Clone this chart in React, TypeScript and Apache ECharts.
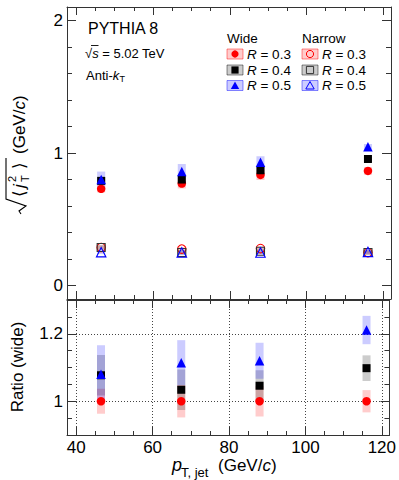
import React, { useEffect, useRef } from 'react';
import * as echarts from 'echarts';

// ---------- data ----------
const ptJet = [46.5, 67.5, 88, 116];

const wideR03 = [0.73, 0.77, 0.835, 0.865];
const wideR04 = [0.79, 0.8, 0.87, 0.955];
const wideR05 = [0.8, 0.86, 0.93, 1.047];
const wideR03Err = [0.027, 0.037, 0.038, 0.029];
const wideR04Err = [0.03, 0.03, 0.025, 0.02];
const wideR05Err = [0.06, 0.057, 0.045, 0.02];

const narrowR03 = [0.288, 0.276, 0.28, 0.25];
const narrowR04 = [0.288, 0.25, 0.26, 0.25];
const narrowR05 = [0.253, 0.25, 0.25, 0.255];
const narrowR03Err = [0.015, 0.015, 0.015, 0.015];
const narrowR04Err = [0.02, 0.02, 0.02, 0.02];
const narrowR05Err = [0.015, 0.015, 0.015, 0.015];

const ratioR03 = [1, 1, 1, 1];
const ratioR04 = [1.077, 1.034, 1.046, 1.098];
const ratioR05 = [1.08, 1.114, 1.12, 1.211];
const ratioR03Err = [0.037, 0.048, 0.045, 0.033];
const ratioR04Err = [0.06, 0.06, 0.046, 0.038];
const ratioR05Err = [0.086, 0.067, 0.053, 0.042];

const xTickLabels = [40, 60, 80, 100, 120];
const topYTickLabels = [0, 1, 2];
const ratioYTickLabels = [1, 1.2];

// ---------- styling ----------
const FONT = '"Liberation Sans", Arial, Helvetica, sans-serif';
const RED = '#ff0000';
const BLUE = '#0000ff';
const BLACK = '#000000';
const GRAY = '#333333';
const RED_BOX = 'rgba(255,0,0,0.2)';
const BLACK_BOX = 'rgba(0,0,0,0.2)';
const BLUE_BOX = 'rgba(0,0,255,0.2)';
const FRAME = '#333';

const X_MIN = 37.6;
const X_MAX = 122;

const near = (v: number, list: number[]) => list.find((t) => Math.abs(v - t) < 1e-6);

function xAxis(gridIndex: number, position: 'top' | 'bottom', labels: boolean, split: boolean) {
  return {
    type: 'value',
    gridIndex,
    position,
    min: X_MIN,
    max: X_MAX,
    splitNumber: 4,
    minInterval: 20,
    maxInterval: 20,
    axisLine: { show: true, onZero: false, lineStyle: { color: FRAME, width: 1 } },
    axisTick: { show: true, inside: true, length: 8, lineStyle: { color: FRAME, width: 1 } },
    minorTick: { show: true, splitNumber: 4, length: 4, lineStyle: { color: FRAME, width: 1 } },
    axisLabel: labels
      ? {
          show: true,
          margin: 4,
          color: '#000',
          fontSize: 17,
          fontFamily: FONT,
          formatter: (v: number) => {
            const t = near(v, xTickLabels);
            return t === undefined ? '' : String(t);
          },
        }
      : { show: false },
    splitLine: split
      ? { show: true, lineStyle: { type: [1, 2], color: '#444', width: 1 } }
      : { show: false },
    minorSplitLine: { show: false },
  };
}

function yAxis(
  gridIndex: number,
  position: 'left' | 'right',
  min: number,
  max: number,
  step: number,
  minorSplit: number,
  labelList: number[] | null,
  split: boolean
) {
  return {
    type: 'value',
    gridIndex,
    position,
    min,
    max,
    splitNumber: 2,
    minInterval: step,
    maxInterval: step,
    axisLine: { show: true, onZero: false, lineStyle: { color: FRAME, width: 1 } },
    axisTick: { show: true, inside: true, length: 9, lineStyle: { color: FRAME, width: 1 } },
    minorTick: { show: true, splitNumber: minorSplit, length: 5, lineStyle: { color: FRAME, width: 1 } },
    axisLabel: labelList
      ? {
          show: true,
          margin: 4,
          color: '#000',
          fontSize: 17,
          fontFamily: FONT,
          formatter: (v: number) => {
            const t = near(v, labelList);
            return t === undefined ? '' : String(t);
          },
        }
      : { show: false },
    splitLine: split
      ? { show: true, lineStyle: { type: [1, 2], color: '#444', width: 1 } }
      : { show: false },
    minorSplitLine: { show: false },
  };
}

function boxSeries(values: number[], errs: number[], fill: string, xi: number, yi: number) {
  return {
    type: 'custom',
    xAxisIndex: xi,
    yAxisIndex: yi,
    data: ptJet.map((x, i) => [x, values[i], errs[i]]),
    encode: { x: 0, y: 1 },
    renderItem: (_p: any, api: any) => {
      const x = api.value(0);
      const y = api.value(1);
      const e = api.value(2);
      const a = api.coord([x - 1.05, y + e]);
      const b = api.coord([x + 1.05, y - e]);
      return {
        type: 'rect',
        shape: { x: a[0], y: a[1], width: b[0] - a[0], height: b[1] - a[1] },
        style: { fill },
      };
    },
    z: 2,
  };
}

function markerSeries(
  values: number[],
  symbol: string,
  size: number,
  color: string,
  hollow: boolean,
  xi: number,
  yi: number
) {
  return {
    type: 'scatter',
    xAxisIndex: xi,
    yAxisIndex: yi,
    data: ptJet.map((x, i) => [x, values[i]]),
    symbol,
    symbolSize: size,
    itemStyle: hollow
      ? { color: 'rgba(0,0,0,0)', borderColor: color, borderWidth: 1.1, opacity: 1 }
      : { color, opacity: 1 },
    z: 5,
  };
}

// ---------- legend / annotation graphics ----------
function legendEntry(
  x: number,
  yc: number,
  boxFill: string,
  boxStroke: string,
  marker: string,
  color: string,
  hollow: boolean,
  label: string
) {
  const cx = x + 8;
  const children: any[] = [
    {
      type: 'rect',
      shape: { x, y: yc - 5, width: 16, height: 10 },
      style: { fill: boxFill, stroke: boxStroke, lineWidth: 1 },
    },
  ];
  const st = hollow ? { fill: 'none', stroke: color, lineWidth: 1 } : { fill: color };
  if (marker === 'circle') children.push({ type: 'circle', shape: { cx, cy: yc, r: 3.6 }, style: st });
  if (marker === 'rect') children.push({ type: 'rect', shape: { x: cx - 3.6, y: yc - 3.6, width: 7.2, height: 7.2 }, style: st });
  if (marker === 'triangle')
    children.push({
      type: 'polygon',
      shape: { points: [[cx, yc - 4], [cx + 4.2, yc + 3.5], [cx - 4.2, yc + 3.5]] },
      style: st,
    });
  children.push({
    type: 'text',
    x: x + 20,
    y: yc,
    style: {
      text: '{i|R} = ' + label,
      fontSize: 13.5,
      fontFamily: FONT,
      fill: '#000',
      verticalAlign: 'middle',
      align: 'left',
      rich: { i: { fontStyle: 'italic', fontSize: 13.5, fontFamily: FONT } },
    },
  });
  return children;
}

const legendRows = [54, 70, 85.5];

export default function App() {
  const ref = useRef<HTMLDivElement>(null);
  useEffect(() => {
    if (!ref.current) return;
    const chart = echarts.init(ref.current, null, { renderer: 'svg' });

    const txt = (x: number, y: number, text: string, size: number, extra: any = {}) => ({
      type: 'text',
      x,
      y,
      z: 100,
      style: {
        text,
        fontSize: size,
        fontFamily: FONT,
        fill: '#000',
        align: 'left',
        verticalAlign: 'middle',
        rich: { i: { fontStyle: 'italic', fontSize: size, fontFamily: FONT } },
        ...extra,
      },
    });

    const graphics: any[] = [
      // annotations
      txt(88, 28, 'PYTHIA 8', 16),
      txt(85, 53, '√{i|s} = 5.02 TeV', 13),
      {
        type: 'line',
        z: 100,
        shape: { x1: 91, y1: 45.5, x2: 98.5, y2: 45.5 },
        style: { stroke: '#000', lineWidth: 0.9 },
      },
      txt(86, 75, 'Anti-{i|k}', 13),
      txt(119.5, 79, 'T', 9),
      // legend headers
      txt(227, 38, 'Wide', 13.5),
      txt(302, 38, 'Narrow', 13.5),
      // legend entries
      ...legendEntry(227, legendRows[0], RED_BOX, 'rgba(255,0,0,0.45)', 'circle', RED, false, '0.3'),
      ...legendEntry(227, legendRows[1], BLACK_BOX, 'rgba(0,0,0,0.45)', 'rect', BLACK, false, '0.4'),
      ...legendEntry(227, legendRows[2], BLUE_BOX, 'rgba(0,0,255,0.45)', 'triangle', BLUE, false, '0.5'),
      ...legendEntry(302, legendRows[0], RED_BOX, 'rgba(255,0,0,0.45)', 'circle', RED, true, '0.3'),
      ...legendEntry(302, legendRows[1], BLACK_BOX, 'rgba(0,0,0,0.45)', 'rect', GRAY, true, '0.4'),
      ...legendEntry(302, legendRows[2], BLUE_BOX, 'rgba(0,0,255,0.45)', 'triangle', BLUE, true, '0.5'),
      // top y title (rotated)
      {
        type: 'group',
        x: 19,
        y: 214,
        rotation: Math.PI / 2,
        z: 100,
        children: [
          {
            type: 'polyline',
            shape: { points: [[0, 2], [3, 0], [8, 7], [15, -13], [56, -13]] },
            style: { stroke: '#000', lineWidth: 1.1, fill: 'none' },
          },
          txt(17, 0, '⟨', 17),
          txt(26, 0, '{i|j}', 17),
          txt(32, -7, '2', 11),
          txt(32, 6, 'T', 11),
          txt(45, 0, '⟩', 17),
          txt(60, 0, '(GeV/{i|c})', 17),
        ],
      },
      // ratio y title
      {
        type: 'text',
        x: 17,
        y: 367,
        rotation: Math.PI / 2,
        z: 100,
        style: {
          text: 'Ratio (wide)',
          fontSize: 17,
          fontFamily: FONT,
          fill: '#000',
          align: 'center',
          verticalAlign: 'middle',
        },
      },
      // x title
      txt(172, 465, '{i|p}', 18),
      txt(181, 472, 'T, jet', 13),
      txt(218, 465, '(GeV/{i|c})', 17),
    ];

    const option: any = {
      animation: false,
      backgroundColor: '#ffffff',
      textStyle: { fontFamily: FONT },
      grid: [
        { left: 67, right: 8, top: 7, height: 292 },
        { left: 67, right: 8, top: 300, height: 135 },
      ],
      xAxis: [
        xAxis(0, 'bottom', false, false),
        xAxis(0, 'top', false, false),
        xAxis(1, 'bottom', true, true),
        xAxis(1, 'top', false, false),
      ],
      yAxis: [
        yAxis(0, 'left', -0.1, 2.1, 1, 5, topYTickLabels, false),
        yAxis(0, 'right', -0.1, 2.1, 1, 5, null, false),
        yAxis(1, 'left', 0.9, 1.3, 0.2, 4, ratioYTickLabels, true),
        yAxis(1, 'right', 0.9, 1.3, 0.2, 4, null, false),
      ],
      series: [
        // top panel boxes
        boxSeries(wideR03, wideR03Err, RED_BOX, 0, 0),
        boxSeries(wideR04, wideR04Err, BLACK_BOX, 0, 0),
        boxSeries(wideR05, wideR05Err, BLUE_BOX, 0, 0),
        boxSeries(narrowR03, narrowR03Err, RED_BOX, 0, 0),
        boxSeries(narrowR04, narrowR04Err, BLACK_BOX, 0, 0),
        boxSeries(narrowR05, narrowR05Err, BLUE_BOX, 0, 0),
        // top panel markers
        markerSeries(wideR03, 'circle', 8.5, RED, false, 0, 0),
        markerSeries(wideR04, 'rect', 8, BLACK, false, 0, 0),
        markerSeries(wideR05, 'triangle', 9.5, BLUE, false, 0, 0),
        markerSeries(narrowR03, 'circle', 8.5, RED, true, 0, 0),
        markerSeries(narrowR04, 'rect', 8, GRAY, true, 0, 0),
        markerSeries(narrowR05, 'triangle', 9.5, BLUE, true, 0, 0),
        // ratio panel
        boxSeries(ratioR03, ratioR03Err, RED_BOX, 2, 2),
        boxSeries(ratioR04, ratioR04Err, BLACK_BOX, 2, 2),
        boxSeries(ratioR05, ratioR05Err, BLUE_BOX, 2, 2),
        markerSeries(ratioR03, 'circle', 8.5, RED, false, 2, 2),
        markerSeries(ratioR04, 'rect', 8, BLACK, false, 2, 2),
        markerSeries(ratioR05, 'triangle', 9.5, BLUE, false, 2, 2),
      ],
      graphic: graphics,
    };

    chart.setOption(option);
    return () => chart.dispose();
  }, []);

  return (
    <div
      ref={ref}
      style={{ position: 'absolute', left: 0, top: 0, width: 399, height: 480, background: '#fff' }}
    />
  );
}
